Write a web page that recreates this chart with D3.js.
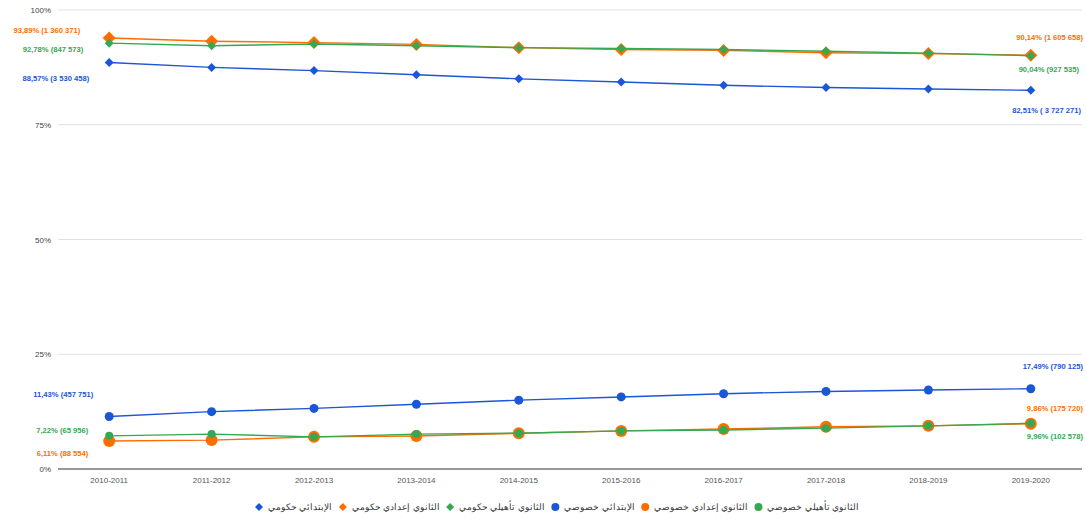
<!DOCTYPE html>
<html><head><meta charset="utf-8">
<script src="https://cdn.jsdelivr.net/npm/d3@7/dist/d3.min.js"></script>
<style>body{margin:0;background:#fff;font-family:"Liberation Sans",Arial,sans-serif}</style>
</head><body><svg id="c" width="1086" height="519"></svg>
<script>
const years = ["2010-2011","2011-2012","2012-2013","2013-2014","2014-2015","2015-2016","2016-2017","2017-2018","2018-2019","2019-2020"];
const yTicks = [0,25,50,75,100];
const names = ["الإبتدائي حكومي","الثانوي إعدادي حكومي","الثانوي تأهيلي حكومي","الإبتدائي خصوصي","الثانوي إعدادي خصوصي","الثانوي تأهيلي خصوصي"];
const primPublic   = [88.57,87.5,86.8,85.9,85.0,84.3,83.6,83.1,82.8,82.51];
const collPublic   = [93.89,93.2,92.9,92.5,91.8,91.4,91.2,90.7,90.5,90.14];
const highPublic   = [92.78,92.2,92.6,92.2,91.8,91.6,91.4,91.0,90.6,90.04];
const primPrivate  = [11.43,12.5,13.2,14.1,15.0,15.7,16.4,16.9,17.2,17.49];
const collPrivate  = [6.11,6.3,7.0,7.2,7.8,8.3,8.7,9.2,9.4,9.86];
const highPrivate  = [7.22,7.6,7.0,7.6,7.8,8.3,8.5,8.9,9.4,9.96];
const firstLabels = ["88,57% (3 530 458)","93,89% (1 360 371)","92,78% (847 573)","11,43% (457 751)","6,11% (88 554)","7,22% (65 956)"];
const lastLabels  = ["82,51% ( 3 727 271)","90,14% (1 605 658)","90,04% (927 535)","17,49% (790 125)","9,86% (175 720)","9,96% (102 578)"];
const colors = ["#1a56d6","#ff6d00","#34a853","#1a56d6","#ff6d00","#34a853"];

const series = [primPublic,collPublic,highPublic,primPrivate,collPrivate,highPrivate];
const shapes = ["diamond","diamond","diamond","circle","circle","circle"];
const markerSize = [4.5,6.5,4.5,4.5,6,4];
const firstDy = [16,-8,6,-22,12,-6];
const firstDx = [-20,-29,-26,-16,-21,-21];
const lastDy = [20,-18,14,-22,-15,13];
const lastX = [1081,1083,1079,1083,1083,1083];
const drawOrder = [1,2,0,4,5,3];

const svg = d3.select("#c");
const x = d3.scaleBand().domain(years).range([58,1082]);
const y = d3.scaleLinear().domain([0,100]).range([469,10]);
const cx = d => x(d) + x.bandwidth()/2;

const grid = svg.append("g");
yTicks.forEach(t=>{
  grid.append("line").attr("x1",58).attr("x2",1082).attr("y1",y(t)).attr("y2",y(t))
    .attr("stroke", t===0 ? "#999" : "#e0e0e0").attr("stroke-width", t===0?2:1);
});
svg.append("g").attr("transform","translate(54,0)")
  .call(d3.axisLeft(y).tickValues(yTicks).tickSize(0).tickFormat(d=>d+"%"))
  .call(g=>g.select(".domain").remove())
  .call(g=>g.selectAll("text").attr("fill","#444").attr("font-size","8px").attr("font-family","Liberation Sans,Arial,sans-serif"));
svg.append("g").attr("transform","translate(0,478)")
  .call(d3.axisBottom(x).tickSize(0))
  .call(g=>g.select(".domain").remove())
  .call(g=>g.selectAll("text").attr("fill","#555").attr("font-size","8px").attr("dy","0.3em").attr("font-family","Liberation Sans,Arial,sans-serif"));

const line = d3.line().x((d,i)=>cx(years[i])).y(d=>y(d));
function marker(g, shape, size, color){
  if(shape==="circle") return g.append("circle").attr("r",size).attr("fill",color);
  return g.append("path").attr("d",`M0,${-size}L${size},0L0,${size}L${-size},0Z`).attr("fill",color);
}
drawOrder.forEach(k=>{
  const g = svg.append("g");
  g.append("path").datum(series[k]).attr("d",line).attr("fill","none").attr("stroke",colors[k]).attr("stroke-width",1.4);
  series[k].forEach((v,i)=>{
    const m = g.append("g").attr("transform",`translate(${cx(years[i])},${y(v)})`);
    marker(m, shapes[k], markerSize[k], colors[k]);
  });
});
series.forEach((s,k)=>{
  svg.append("text").attr("x",cx(years[0])+firstDx[k]).attr("y",y(s[0])+firstDy[k]).attr("dy","0.35em")
    .attr("text-anchor","end").attr("fill",colors[k]).attr("font-size","7.6px").attr("font-weight","bold").text(firstLabels[k]);
  svg.append("text").attr("x",lastX[k]).attr("y",y(s[s.length-1])+lastDy[k]).attr("dy","0.35em")
    .attr("text-anchor","end").attr("fill",colors[k]).attr("font-size","7.6px").attr("font-weight","bold").text(lastLabels[k]);
});
const leg = svg.append("g");
let lx = 255;
names.forEach((n,k)=>{
  const m = leg.append("g").attr("transform",`translate(${lx+4},507)`);
  marker(m, shapes[k], 4, colors[k]);
  const t = leg.append("text").attr("x",lx+13).attr("y",507).attr("dy","0.35em").attr("font-size","8.5px").attr("fill","#333").text(n);
  lx += 13 + t.node().getComputedTextLength() + 6.5;
});
</script></body></html>
